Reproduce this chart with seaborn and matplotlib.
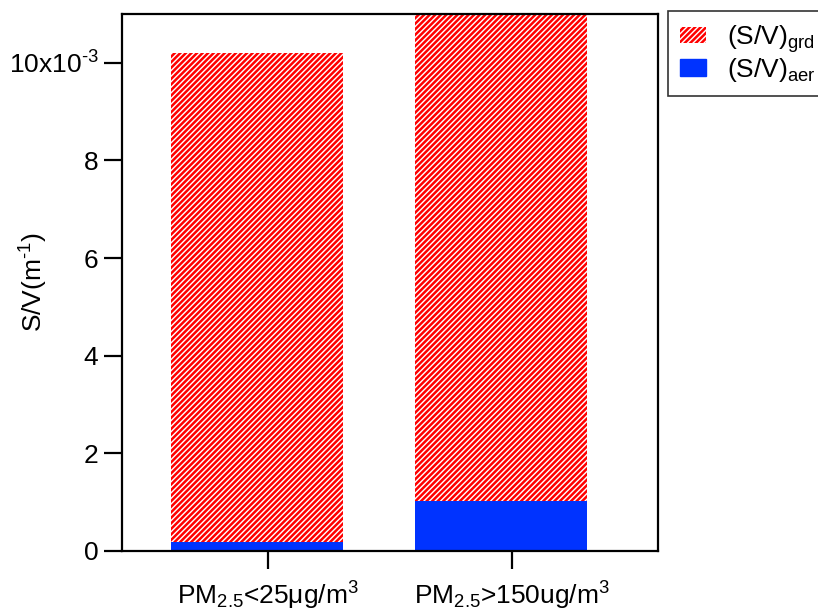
"""
S/V 对比柱状图 - 堆叠柱 (grd 斜线填充, aer 实心蓝)
"""

import matplotlib
matplotlib.use('Agg')
import matplotlib.pyplot as plt
import matplotlib.patches as mpatches
import seaborn as sns
import pandas as pd

# 数据 (单位 m^-1)
categories = ['PM$_{2.5}$<25μg/m$^{3}$', 'PM$_{2.5}$>150ug/m$^{3}$']
sv_total = [10.2e-3, 11.4e-3]
sv_aer = [0.18e-3, 1.02e-3]
y_ticks = [0, 2e-3, 4e-3, 6e-3, 8e-3, 10e-3]
y_tick_labels = ['0', '2', '4', '6', '8', '10x10$^{\\text{-}3}$']

RED = '#FF0000'
BLUE = '#0033FF'
BAR_SHIFT = -0.045  # 原图柱子相对刻度略微左移
FS = 19

sns.set_style('ticks')
plt.rcParams['font.family'] = ['Liberation Sans', 'DejaVu Sans']
plt.rcParams['mathtext.fontset'] = 'custom'
plt.rcParams['mathtext.rm'] = 'Liberation Sans'
plt.rcParams['mathtext.it'] = 'Liberation Sans'
plt.rcParams['mathtext.default'] = 'regular'
plt.rcParams['axes.unicode_minus'] = False
plt.rcParams['hatch.linewidth'] = 1.8
plt.rcParams['hatch.color'] = RED
for key in ['text.color', 'axes.labelcolor', 'xtick.color', 'ytick.color']:
    plt.rcParams[key] = 'black'

df = pd.DataFrame({'cat': categories, 'total': sv_total, 'aer': sv_aer})

fig = plt.figure(figsize=(8.18, 6.16), dpi=100)
ax = fig.add_axes([122 / 818, 65 / 616, 536 / 818, 537 / 616])

sns.barplot(data=df, x='cat', y='total', ax=ax, width=0.705,
            color='white', saturation=1, edgecolor=RED, linewidth=0)
for p in ax.patches:
    p.set_hatch('//////')
    p.set_edgecolor(RED)
    p.set_facecolor('white')
    p.set_linewidth(0)

sns.barplot(data=df, x='cat', y='aer', ax=ax, width=0.705,
            color=BLUE, saturation=1, linewidth=0)

for p in ax.patches:
    p.set_x(p.get_x() + BAR_SHIFT)

ax.set_xlim(-0.6, 1.6)
ax.set_ylim(0, 11.0e-3)
ax.set_yticks(y_ticks)
ax.set_yticklabels(y_tick_labels)
ax.set_xlabel('')
ax.set_ylabel('S/V(m$^{\\text{-}1}$)', fontsize=FS)
ax.yaxis.set_label_coords(-0.135, 0.5)

for s in ax.spines.values():
    s.set_visible(True)
    s.set_linewidth(1.6)
    s.set_color('black')

ax.tick_params(axis='y', direction='out', length=13, width=1.6, labelsize=FS, pad=4)
ax.tick_params(axis='x', direction='out', length=13, width=1.6, labelsize=FS, pad=8)

grd_handle = mpatches.Patch(facecolor='white', edgecolor=RED, hatch='//////', linewidth=0,
                            label='(S/V)$_{grd}$')
aer_handle = mpatches.Patch(facecolor=BLUE, edgecolor=BLUE, label='(S/V)$_{aer}$')
leg = fig.legend(handles=[grd_handle, aer_handle], loc='upper left',
                 bbox_to_anchor=(668 / 818, 1 - 11 / 616), fontsize=FS,
                 frameon=True, fancybox=False, borderpad=0.45, handlelength=1.0,
                 handleheight=0.6, labelspacing=0.05, handletextpad=0.8,
                 borderaxespad=0)
leg.get_frame().set_edgecolor('black')
leg.get_frame().set_linewidth(1.2)

fig.savefig('out.png', dpi=100)
